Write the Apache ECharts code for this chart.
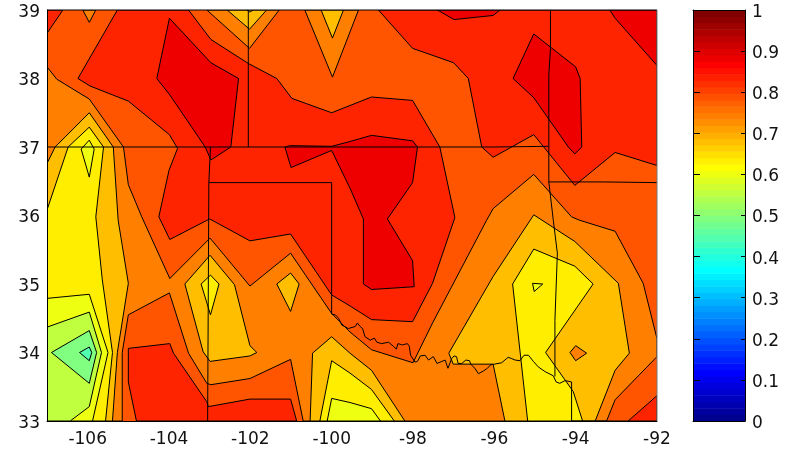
<!DOCTYPE html>
<html>
<head>
<meta charset="utf-8">
<style>html,body{margin:0;padding:0;background:#fff}#c{width:795px;height:449px}</style>
<script src="https://cdn.jsdelivr.net/npm/echarts@6/dist/echarts.min.js"></script>
</head>
<body>
<div id="c"></div>
<script>
// Tick labels
const lonTicks = [-106,-104,-102,-100,-98,-96,-94,-92];
const latTicks = [33,34,35,36,37,38,39];
const barTicks = [0,0.1,0.2,0.3,0.4,0.5,0.6,0.7,0.8,0.9,1];

// Filled contour bands: [lon, lat] outlines
const domain = [[-107,33],[-92,33],[-92,39],[-107,39]];
const r1 = [[-105.27,39],[-103.52,39],[-102.97,38.57],[-102.05,38.22],[-101.35,38],[-100.98,37.71],[-100,37.5],[-99.02,37.73],[-98.01,37.68],[-97.34,37],[-96.97,35.97],[-97.52,35.01],[-98.01,34.45],[-99.02,34.48],[-99.55,34.68],[-100,34.84],[-101.01,35.73],[-102.01,35.63],[-103,35.95],[-103.98,35.65],[-104.25,35.98],[-104,36.66],[-103.79,36.98],[-103.99,37.18],[-105,37.67],[-105.94,37.89],[-106.24,38]];
const r2 = [[-98.85,39],[-98.01,38.44],[-97,38.23],[-96.64,38],[-96.31,37],[-96.03,36.85],[-95.03,37.18],[-94.02,36.44],[-93.03,36.92],[-92,36.73],[-92,39]];
const r3 = [[-107,39],[-106.61,39],[-107,38.66]];
const r4 = [[-105,34.06],[-103.98,34.13],[-103.89,33.99],[-103.07,33.28],[-103.03,33.21],[-102.01,33.32],[-101.01,33.32],[-100.86,33],[-104.8,33],[-105,33.57]];
const r5 = [[-92,33.37],[-92.71,33],[-92,33]];
const d1 = [[-103.99,38.88],[-102.97,38.23],[-102.29,38],[-102.48,37],[-102.97,36.81],[-103.11,37],[-103.98,37.76],[-104.3,38]];
const d2 = [[-101.15,37],[-101.02,37.02],[-100,37.01],[-99.55,37.08],[-99.02,37.17],[-98.01,37.09],[-97.89,37],[-98.01,36.48],[-98.63,35.95],[-98.01,35.34],[-97.97,34.96],[-99.02,34.92],[-99.22,35],[-99.22,35.95],[-99.55,36.4],[-100,36.95],[-101,36.7]];
const d3 = [[-97.4,39],[-96.99,38.86],[-96.03,38.92],[-95.86,39]];
const d4 = [[-95.03,38.65],[-94,38.17],[-93.89,38],[-93.85,37],[-94.02,36.9],[-94.18,37],[-95.03,37.72],[-95.54,38]];
const d5 = [[-93.16,39],[-93.03,38.88],[-92,38.19],[-92,39]];
const o1 = [[-107,38.17],[-106.76,37.99],[-105.96,37.7],[-105.12,37],[-105,36.45],[-104.67,35.98],[-103.98,35.08],[-102.99,35.67],[-102.01,34.97],[-101.01,35.45],[-100,34.57],[-99.55,34.3],[-99.02,34.04],[-98,33.85],[-97.52,34.43],[-96.19,35.93],[-96.03,36.1],[-95.03,36.6],[-94.1,35.98],[-93.9,35.93],[-93.03,35.77],[-92.34,35.01],[-92,34.2],[-92,33.94],[-93.03,33.31],[-93.24,33],[-100.7,33],[-101.01,33.9],[-102.01,33.62],[-102.97,33.53],[-103.07,33.55],[-103.52,33.99],[-103.99,34.87],[-105,34.55],[-105.15,34],[-105.15,33],[-107,33]];
const o2 = [[-106.12,39],[-105.96,38.82],[-105.8,39]];
const o3 = [[-103.07,39],[-102.02,38.44],[-101.29,39]];
const o4 = [[-100.66,39],[-99.98,38.02],[-99.34,39]];
const a1 = [[-107,36.76],[-106.8,37],[-105.96,37.5],[-105.37,37],[-105.25,35.93],[-105,35.01],[-105.27,34],[-105.39,33],[-107,33]];
const a2 = [[-103.61,35],[-102.99,35.42],[-102.39,34.99],[-102.01,34.1],[-101.84,34],[-102.01,33.95],[-102.99,33.87],[-103.16,34.01]];
const a3 = [[-101.35,35],[-101.01,35.16],[-100.8,35],[-101.01,34.6]];
const a4 = [[-100.53,33],[-100.47,33.99],[-100,34.23],[-99.55,33.99],[-99.02,33.74],[-98.2,33]];
const a5 = [[-95.03,36.01],[-94.02,35.62],[-92.95,35.01],[-92.68,33.99],[-93.03,33.74],[-93.52,33],[-95.74,33],[-96.03,33.83],[-97.01,33.83],[-97.12,33.99],[-96.03,35.11]];
const a6 = [[-102.57,39],[-102.02,38.72],[-101.6,39]];
const a7 = [[-100.26,39],[-99.98,38.59],[-99.71,39]];
const oIsland = [[-94.14,34],[-94,34.1],[-93.73,33.99],[-94,33.88]];
const y1 = [[-107,36.08],[-106.48,37],[-105.96,37.29],[-105.61,37],[-105.8,35.98],[-105.64,35.06],[-105.39,34],[-105.56,33],[-107,33]];
const y2 = [[-103.21,35],[-102.98,35.13],[-102.77,35],[-102.98,34.55]];
const y3 = [[-100.29,33],[-100,33.88],[-99.55,33.7],[-99.02,33.46],[-98.46,33]];
const y4 = [[-95.03,35.51],[-94.02,35.26],[-93.57,35],[-94.74,34],[-94.06,33.43],[-93.83,33],[-95.18,33],[-95.55,35]];
const y5 = [[-102.09,39],[-102.01,38.97],[-101.93,39]];
const l1 = [[-106.16,36.97],[-105.96,37.1],[-105.84,36.97],[-105.96,36.56]];
const l2 = [[-107,34.79],[-105.96,34.85],[-105.5,34],[-105.88,33],[-107,33]];
const l3 = [[-100.11,33],[-100,33.33],[-99.55,33.27],[-99.02,33.18],[-98.8,33]];
const l4 = [[-95.06,35.01],[-94.81,35],[-95.02,34.89]];
const g1 = [[-107,34.37],[-105.96,34.59],[-105.66,34],[-105.96,33.21],[-106.43,33],[-107,33]];
const g2 = [[-106.89,34],[-105.96,34.32],[-105.78,34],[-105.96,33.55]];
const g3 = [[-106.2,34],[-105.96,34.08],[-105.9,34],[-105.96,33.88]];

// Fill order and colour of each band
const bands = [
  ['#ff5500',[domain]],
  ['#ff2400',[r1,r2,r3,r4,r5]],
  ['#ee0000',[d1,d2,d3,d4,d5]],
  ['#ff8000',[o1,o2,o3,o4]],
  ['#ffbf00',[a1,a2,a3,a4,a5,a6,a7]],
  ['#ff8000',[oIsland]],
  ['#ffee00',[y1,y2,y3,y4,y5]],
  ['#eeff11',[l1,l2,l3,l4]],
  ['#bfff40',[g1]],
  ['#80ff80',[g2]],
  ['#50ffaf',[g3]]
];

// State boundaries
const line37 = [[-107,37],[-96,37],[-96.03,37.01],[-94.66,37.01]];
const lineCoKs = [[-102.05,39],[-102.05,37]];
const lineNm = [[-102.98,37],[-103.02,36.48],[-103.05,33]];
const lineTexas = [[-103.02,36.48],[-100,36.48],[-100,34.56],[-99.91,34.55],[-99.83,34.5],[-99.75,34.4],[-99.59,34.35],[-99.42,34.38],[-99.37,34.43],[-99.3,34.38],[-99.24,34.35],[-99.18,34.23],[-99.05,34.18],[-98.95,34.21],[-98.89,34.15],[-98.77,34.13],[-98.6,34.15],[-98.48,34.09],[-98.41,34.05],[-98.37,34.13],[-98.26,34.11],[-98.14,34.13],[-98.09,34.09],[-98.06,33.96],[-97.95,33.86],[-97.89,33.87],[-97.82,33.95],[-97.7,33.96],[-97.62,33.89],[-97.5,33.94],[-97.41,33.84],[-97.29,33.87],[-97.21,33.89],[-97.14,33.77],[-97.05,33.91],[-96.99,33.95],[-96.93,33.94],[-96.89,33.84],[-96.8,33.84],[-96.7,33.89],[-96.61,33.88],[-96.58,33.83],[-96.48,33.77],[-96.39,33.69],[-96.27,33.73],[-96.17,33.77],[-96.09,33.82],[-96,33.83],[-95.82,33.85],[-95.66,33.93],[-95.57,33.91],[-95.49,33.89],[-95.37,33.88],[-95.27,33.96],[-95.16,33.96],[-95.04,33.87],[-94.92,33.79],[-94.75,33.72],[-94.55,33.66],[-94.48,33.57],[-94.39,33.55],[-94.26,33.59],[-94.1,33.57],[-94.1,33],[-92.71,33]];
const lineEast = [[-94.62,39],[-94.62,38.44],[-94.66,38.05],[-94.66,36.49],[-94.55,35.93],[-94.45,35.45],[-94.51,34.47],[-94.51,33.65]];
const lineMoAr = [[-94.66,36.49],[-93.32,36.49],[-92,36.48]];
const lineFrameTop = [[-107,39],[-92,39]];
const lineFrameRight = [[-92,33],[-92,39]];
const stateLines = [line37,lineCoKs,lineNm,lineTexas,lineEast,lineMoAr,lineFrameTop];

// Flatten bands for the custom series
const regionColors = [], regionOutlines = [];
bands.forEach(b => b[1].forEach(p => { regionColors.push(b[0]); regionOutlines.push(p); }));

// MATLAB jet palette, 64 steps
function jet(i){ // i = 1..64
  const f = t => Math.max(0, Math.min(1, t));
  const r = f((i-24)/16) - f((i-56)/16);
  const g = f((i-8)/16) - f((i-40)/16);
  const b = i<=8 ? 0.5+i/16 : 1-f((i-24)/16);
  const c = v => Math.round(Math.max(0,Math.min(1,v))*255);
  return 'rgb('+c(r)+','+c(g)+','+c(b)+')';
}
const barBins = [];
for (let i=1;i<=64;i++) barBins.push(i);

const labelStyle = {color:'#111', fontFamily:'DejaVu Sans', fontSize:17};
const nudged = {a:Object.assign({padding:[5,0,0,0]},labelStyle)};
const chart = echarts.init(document.getElementById('c'), null, {renderer:'canvas'});
chart.setOption({
  animation:false,
  grid:[
    {left:47, top:10, width:610, height:411},
    {left:693, top:10, width:52, height:411}
  ],
  xAxis:[
    {gridIndex:0,type:'value',min:-107,max:-92,z:5,splitLine:{show:false},
     axisLine:{onZero:false,lineStyle:{color:'#000',width:1}},
     axisTick:{show:false},
     axisLabel:Object.assign({customValues:lonTicks,margin:10},labelStyle)},
    {gridIndex:1,type:'value',min:0,max:1,z:5,splitLine:{show:false},
     axisLine:{onZero:false,lineStyle:{color:'#000',width:1}},axisTick:{show:false},axisLabel:{show:false}},
    {gridIndex:1,type:'value',min:0,max:1,position:'top',z:5,splitLine:{show:false},
     axisLine:{onZero:false,lineStyle:{color:'#000',width:1}},axisTick:{show:false},axisLabel:{show:false}}
  ],
  yAxis:[
    {gridIndex:0,type:'value',min:33,max:39,interval:1,z:5,splitLine:{show:false},
     axisLine:{onZero:false,lineStyle:{color:'#000',width:1}},
     axisTick:{show:false},
     axisLabel:Object.assign({customValues:latTicks,margin:7,formatter:v=>'{a|'+v+'}',rich:nudged},labelStyle)},
    {gridIndex:1,type:'value',min:0,max:1,position:'right',z:5,splitLine:{show:false},
     axisLine:{show:true,onZero:false,lineStyle:{color:'#000',width:1}},
     axisTick:{show:true,inside:true,length:4,customValues:barTicks,lineStyle:{color:'#000'}},
     axisLabel:Object.assign({customValues:barTicks,margin:7,formatter:v=>'{a|'+v+'}',rich:nudged},labelStyle)},
    {gridIndex:1,type:'value',min:0,max:1,position:'left',z:5,splitLine:{show:false},
     axisLine:{show:true,onZero:false,lineStyle:{color:'#000',width:1}},
     axisTick:{show:true,inside:true,length:7,customValues:barTicks,lineStyle:{color:'#000'}},
     axisLabel:{show:false}}
  ],
  series:[
    {type:'custom',xAxisIndex:0,yAxisIndex:0,clip:true,silent:true,z:2,
     data:regionOutlines.map((p,i)=>[i]),
     renderItem:(params,api)=>{
       const i = params.dataIndex;
       return {type:'polygon',
         shape:{points:regionOutlines[i].map(q=>api.coord(q))},
         style:{fill:regionColors[i],stroke:i===0?'none':'#000',lineWidth:i===0?0:1}};
     }},
    ...stateLines.map(l=>({type:'line',xAxisIndex:0,yAxisIndex:0,data:l,showSymbol:false,silent:true,z:3,clip:false,
      lineStyle:{color:'#000',width:1}})),
    {type:'line',xAxisIndex:0,yAxisIndex:0,data:lineFrameRight,showSymbol:false,silent:true,z:4,clip:false,
      lineStyle:{color:'#777',width:1}},
    {type:'custom',xAxisIndex:1,yAxisIndex:1,clip:true,silent:true,z:2,
     data:barBins.map(b=>[b]),
     renderItem:(params,api)=>{
       const b = barBins[params.dataIndex];
       const p0 = api.coord([0,(b-1)/64]), p1 = api.coord([1,b/64]);
       return {type:'rect',shape:{x:p0[0],y:p1[1],width:p1[0]-p0[0],height:p0[1]-p1[1]+0.5},
         style:{fill:jet(b),stroke:null}};
     }}
  ]
});
</script>
</body>
</html>
